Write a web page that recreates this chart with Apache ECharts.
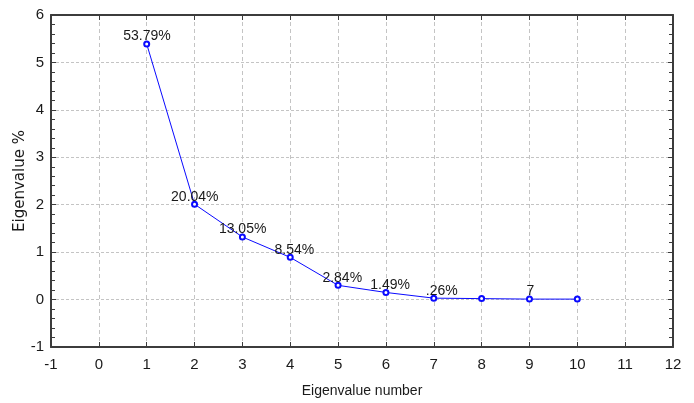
<!DOCTYPE html>
<html>
<head>
<meta charset="utf-8">
<script src="https://cdn.jsdelivr.net/npm/echarts@6/dist/echarts.min.js"></script>
<style>html,body{margin:0;padding:0;background:#fff}#c{width:694px;height:403px}</style>
</head>
<body>
<div id="c"></div>
<script>
var eigenNumbers = [1, 2, 3, 4, 5, 6, 7, 8, 9, 10];
var eigenValues = [5.39, 2.01, 1.32, 0.89, 0.30, 0.15, 0.03, 0.02, 0.01, 0.01];
var pointLabels = ['53.79%', '20.04%', '13.05%', '8.54%', '2.84%', '1.49%', '.26%', '', '7', ''];
var xTicks = { min: -1, max: 12, interval: 1 };
var yTicks = { min: -1, max: 6, interval: 1 };

var sans = '"Liberation Sans", Arial, sans-serif';
var axisCol = '#3c3c3c';
var gridCol = '#c4c4c4';

var data = eigenNumbers.map(function (n, i) {
  var item = { value: [n, eigenValues[i]] };
  if (pointLabels[i] === '7') {
    item.label = { align: 'center', offset: [1, 3] };
  }
  return item;
});

var chart = echarts.init(document.getElementById('c'), null, { renderer: 'canvas' });
chart.setOption({
  animation: false,
  backgroundColor: '#ffffff',
  grid: { left: 51, right: 21, top: 15, bottom: 56, containLabel: false, outerBoundsMode: 'none' },
  xAxis: [{
    type: 'value', position: 'bottom',
    min: xTicks.min, max: xTicks.max, interval: xTicks.interval,
    name: 'Eigenvalue number', nameLocation: 'middle', nameGap: 37, nameMoveOverlap: false,
    nameTextStyle: { fontFamily: sans, fontSize: 14, color: '#1a1a1a' },
    axisLine: { show: true, onZero: false, lineStyle: { color: axisCol, width: 2 } },
    axisTick: { show: true, inside: true, length: 5, lineStyle: { color: axisCol, width: 1 } },
    axisLabel: { margin: 10, fontFamily: sans, fontSize: 15, color: '#1a1a1a' },
    splitLine: { show: true, lineStyle: { color: gridCol, type: [4, 3], width: 1 } }
  }, {
    type: 'value', position: 'top',
    min: xTicks.min, max: xTicks.max, interval: xTicks.interval,
    axisLine: { show: true, onZero: false, lineStyle: { color: axisCol, width: 2 } },
    axisTick: { show: true, inside: true, length: 5, lineStyle: { color: axisCol, width: 1 } },
    axisLabel: { show: false },
    splitLine: { show: false }
  }],
  yAxis: [{
    type: 'value', position: 'left',
    min: yTicks.min, max: yTicks.max, interval: yTicks.interval,
    name: 'Eigenvalue %', nameLocation: 'middle', nameGap: 23, nameRotate: 90, nameMoveOverlap: false,
    nameTextStyle: { fontFamily: '"DejaVu Sans", sans-serif', fontSize: 15, color: '#1a1a1a' },
    axisLine: { show: true, onZero: false, lineStyle: { color: axisCol, width: 2 } },
    axisTick: { show: true, inside: true, length: 5, lineStyle: { color: axisCol, width: 1 } },
    minorTick: { show: true, splitNumber: 5, length: 4, lineStyle: { color: axisCol, width: 1 } },
    axisLabel: { margin: 7, fontFamily: sans, fontSize: 15, color: '#1a1a1a' },
    splitLine: { show: true, lineStyle: { color: gridCol, type: [3, 2], width: 1 } }
  }, {
    type: 'value', position: 'right',
    min: yTicks.min, max: yTicks.max, interval: yTicks.interval,
    axisLine: { show: true, onZero: false, lineStyle: { color: axisCol, width: 2 } },
    axisTick: { show: true, inside: true, length: 5, lineStyle: { color: axisCol, width: 1 } },
    minorTick: { show: true, splitNumber: 5, length: 4, lineStyle: { color: axisCol, width: 1 } },
    axisLabel: { show: false },
    splitLine: { show: false }
  }],
  series: [{
    type: 'line',
    xAxisIndex: 0, yAxisIndex: 0,
    data: data,
    symbol: 'emptyCircle', symbolSize: 5,
    lineStyle: { color: '#0a0aff', width: 1 },
    itemStyle: { color: '#0a0aff', borderWidth: 1 },
    label: {
      show: true, position: 'top', distance: 0, align: 'right', offset: [24, 3],
      fontFamily: sans, fontSize: 14, color: '#1a1a1a',
      formatter: function (p) { return pointLabels[p.dataIndex]; }
    }
  }]
});
</script>
</body>
</html>
